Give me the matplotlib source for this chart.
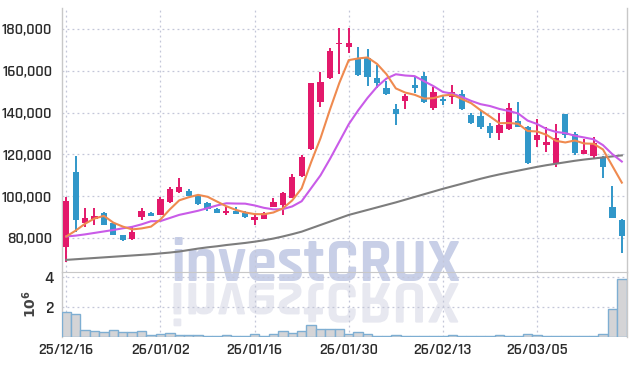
import matplotlib
matplotlib.use('Agg')
from matplotlib import pyplot as plt
from matplotlib.textpath import TextPath
from matplotlib.patches import PathPatch
from matplotlib.font_manager import FontProperties
from matplotlib.transforms import Affine2D
from matplotlib.ticker import FuncFormatter

plt.rcParams['font.family'] = ['Rajdhani', 'DejaVu Sans']
plt.rcParams['font.weight'] = 'semibold'

# daily candles (thousand KRW)
opens = [75.83, 111.57, 87.32, 89.09, 92.10, 87.03, 81.43, 79.52, 90.18, 91.96,
         91.00, 97.36, 102.15, 102.48, 100.09, 96.89, 93.87, 91.96, 93.06, 92.10,
         88.61, 89.09, 94.97, 95.64, 99.28, 109.66, 122.44, 145.21, 156.41, 172.82,
         171.53, 165.50, 165.98, 156.41, 151.62, 141.72, 145.69, 153.20, 157.51, 142.34,
         146.50, 147.32, 148.90, 138.85, 138.37, 133.59, 130.38, 132.01, 135.98, 133.25,
         126.89, 124.49, 115.40, 139.33, 129.76, 120.33, 119.37, 118.90, 94.97, 88.61]
highs = [99.47, 119.23, 94.20, 94.20, 92.50, 87.50, 81.60, 85.11, 94.20, 92.44,
         99.47, 104.54, 108.56, 103.30, 100.50, 97.37, 94.50, 94.97, 94.68, 93.06,
         91.00, 92.44, 99.28, 102.15, 110.62, 119.71, 154.30, 159.28, 170.76, 180.48,
         180.33, 171.24, 170.29, 162.77, 155.12, 144.11, 148.90, 157.51, 159.57, 152.39,
         148.42, 153.20, 150.81, 139.95, 140.91, 134.88, 139.67, 144.45, 144.93, 133.40,
         136.79, 133.25, 134.54, 139.50, 130.86, 127.22, 128.18, 119.20, 104.88, 88.90]
lows = [68.65, 83.00, 85.40, 86.22, 86.00, 81.30, 78.40, 79.04, 88.61, 90.50,
        90.80, 96.60, 101.67, 100.00, 95.79, 93.06, 91.80, 91.00, 91.33, 89.56,
        86.22, 88.90, 94.68, 91.00, 98.99, 109.33, 122.10, 142.53, 155.93, 158.47,
        168.37, 157.51, 152.87, 151.62, 148.42, 134.06, 141.58, 149.23, 144.45, 141.24,
        143.63, 143.97, 141.24, 134.54, 132.01, 127.70, 126.89, 131.67, 133.25, 115.40,
        123.39, 121.29, 114.11, 127.70, 119.71, 120.19, 117.80, 108.56, 89.42, 72.67]
closes = [97.70, 88.61, 89.56, 90.52, 86.36, 81.57, 79.18, 82.72, 92.91, 90.66,
          98.51, 103.44, 104.40, 100.24, 96.41, 94.01, 92.10, 93.06, 91.62, 90.18,
          90.04, 91.81, 97.22, 101.38, 109.33, 118.90, 154.02, 154.78, 169.62, 173.45,
          173.45, 158.00, 157.18, 154.30, 148.90, 139.33, 147.94, 151.91, 145.21, 150.00,
          145.55, 150.00, 141.58, 135.17, 133.25, 130.38, 134.06, 142.06, 133.25, 116.02,
          129.28, 126.07, 127.70, 129.28, 120.81, 122.10, 125.30, 114.11, 89.70, 81.09]

ma5 = [80.7, 83.5, 86.8, 89.3, 90.55, 87.32, 85.44, 84.07, 84.55, 85.41,
       88.80, 93.65, 97.98, 99.45, 100.60, 99.70, 97.43, 95.16, 93.44, 92.19,
       91.40, 91.34, 92.17, 94.13, 97.96, 103.73, 116.17, 127.68, 141.33, 154.15,
       165.06, 165.86, 166.34, 163.28, 158.37, 151.54, 149.53, 148.48, 146.66, 146.88,
       148.12, 148.53, 146.47, 144.46, 141.11, 138.08, 134.89, 134.98, 134.60, 131.15,
       130.93, 129.34, 126.46, 125.67, 126.63, 125.19, 125.04, 122.32, 114.40, 106.46]
ma10 = [80.7, 81.1, 81.7, 82.4, 83.1, 83.8, 84.6, 85.3, 86.5, 87.98,
        88.06, 89.54, 91.03, 92.00, 93.00, 94.25, 95.54, 96.57, 96.45, 96.40,
        95.55, 94.39, 93.67, 93.78, 95.08, 97.56, 103.76, 109.93, 117.73, 126.06,
        134.40, 141.02, 147.01, 152.30, 156.26, 158.30, 157.70, 157.41, 154.97, 152.62,
        149.83, 149.03, 147.47, 145.56, 143.99, 143.10, 141.71, 140.73, 139.53, 136.13,
        134.51, 132.11, 130.72, 130.14, 128.89, 128.06, 127.19, 124.39, 120.04, 116.54]
ma_long = [69.5, 69.8, 70.1, 70.4, 70.7, 71.0, 71.3, 71.6, 71.9, 72.2,
           72.6, 73.0, 73.5, 74.2, 74.9, 75.5, 76.0, 76.6, 77.1, 77.6,
           78.2, 78.9, 79.7, 80.7, 81.8, 83.0, 84.6, 86.2, 87.8, 89.4,
           91.0, 92.2, 93.4, 94.6, 95.8, 97.0, 98.3, 99.6, 100.9, 102.2,
           103.5, 104.7, 105.9, 107.1, 108.3, 109.4, 110.4, 111.3, 112.2, 113.1,
           114.0, 114.8, 115.5, 116.2, 116.9, 117.5, 118.0, 118.5, 119.0, 119.5]

volume = [1.66, 1.52, 0.44, 0.38, 0.31, 0.44, 0.31, 0.31, 0.38, 0.11,
          0.18, 0.24, 0.11, 0.11, 0.11, 0.05, 0.05, 0.11, 0.05, 0.05,
          0.18, 0.05, 0.18, 0.38, 0.24, 0.38, 0.82, 0.51, 0.57, 0.51,
          0.22, 0.31, 0.22, 0.09, 0.09, 0.16, 0.09, 0.09, 0.09, 0.05,
          0.05, 0.16, 0.09, 0.09, 0.05, 0.05, 0.16, 0.09, 0.09, 0.22,
          0.16, 0.09, 0.09, 0.09, 0.09, 0.09, 0.05, 0.22, 1.89, 3.89]

tick_pos = [0, 10, 20, 30, 40, 50]
tick_labels = ['25/12/16', '26/01/02', '26/01/16', '26/01/30', '26/02/13', '26/03/05']

UP = '#e3196b'
DOWN = '#3197c9'
GRID = '#c3c6d8'
TXT = '#2b2b2b'

n = len(closes)
xs = list(range(n))

fig = plt.figure(figsize=(6.35, 3.66), dpi=100)
ax = fig.add_axes([62/635, 1-272/366, 565/635, 264/366])
axv = fig.add_axes([62/635, 1-337/366, 565/635, 65/366], sharex=ax)

for a in (ax, axv):
    a.set_facecolor('none')
    for s in ('top', 'bottom'):
        a.spines[s].set_visible(False)
    for s in ('left', 'right'):
        a.spines[s].set_color('#c8c8c8')
        a.spines[s].set_linewidth(1.0)
    a.grid(True, color=GRID, linestyle=(0, (1.5, 2.5)), linewidth=0.9)
    a.set_axisbelow(True)
    a.tick_params(length=0, labelsize=11.5, labelcolor=TXT)
axv.spines['top'].set_visible(True)
axv.spines['top'].set_color('#c8c8c8')

# candles
cols = [UP if c >= o else DOWN for o, c in zip(opens, closes)]
ax.vlines(xs, [l*1000 for l in lows], [h*1000 for h in highs], colors=cols, linewidth=1.4, zorder=3)
bottoms = [min(o, c)*1000 for o, c in zip(opens, closes)]
heights = [max(abs(c - o)*1000, 500) for o, c in zip(opens, closes)]
ax.bar(xs, heights, bottom=bottoms, width=0.66, color=cols, zorder=4)

ax.plot(xs, [v*1000 for v in ma_long], color='#7d7d7d', linewidth=1.5, zorder=5)
ax.plot(xs, [v*1000 for v in ma10], color='#c95be8', linewidth=1.5, zorder=5)
ax.plot(xs, [v*1000 for v in ma5], color='#ef8a4f', linewidth=1.5, zorder=5)

ax.set_ylim(63700, 190000)
ax.set_yticks([80000, 100000, 120000, 140000, 160000, 180000])
ax.yaxis.set_major_formatter(FuncFormatter(lambda v, p: f'{int(v):,}'))
ax.tick_params(axis='y', pad=7)
ax.tick_params(axis='x', labelbottom=False)

# volume
axv.bar(xs, [v*1e6 for v in volume], width=1.0, color='#d4d4d6', edgecolor='#7eaed2', linewidth=1.0, zorder=3)
axv.set_ylim(0, 4.36e6)
axv.set_yticks([2e6, 4e6])
axv.set_yticklabels(['2', '4'])
axv.tick_params(axis='y', pad=6, labelsize=12.5)
axv.set_ylabel(r'$10^6$', fontsize=10, fontweight='normal', color='#444444', labelpad=4)
axv.set_xticks(tick_pos)
axv.set_xticklabels(tick_labels)
axv.tick_params(axis='x', pad=4)
axv.set_xlim(-0.45, n - 0.45)

# watermark + its reflection, scaled to span ~285 px
wm = 'investCRUX'
fp = FontProperties(family=['Rajdhani', 'DejaVu Sans'], weight='bold')
probe = TextPath((0, 0), wm, size=100, prop=fp).get_extents()
size_px = 100 * 285 / probe.width
fig.text(316/635, 1-281/366, wm, fontsize=size_px*72/100, fontproperties=fp,
         color='#c8cfe7', ha='center', va='baseline', zorder=-1)
tp = TextPath((0, 0), wm, size=size_px, prop=fp)
ext = tp.get_extents()
cx = (ext.x0 + ext.x1) / 2
tr = Affine2D().translate(-cx, 0).scale(1, -1).translate(316, 366-283)
fig.add_artist(PathPatch(tp, transform=tr, facecolor='#e7e8f0', edgecolor='none', zorder=-2))

plt.savefig('out.png', dpi=100)
